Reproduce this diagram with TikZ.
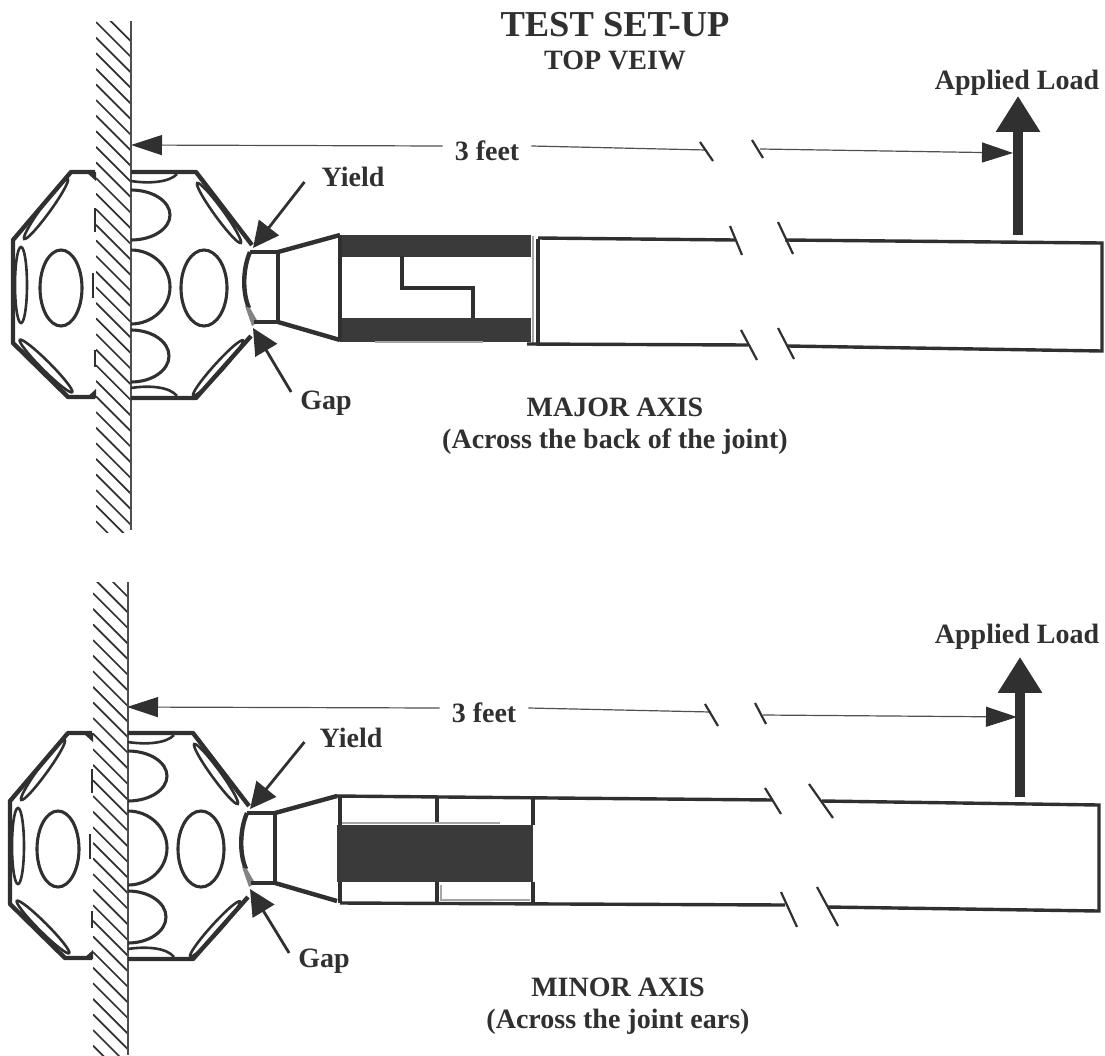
\documentclass[tikz,border=0pt]{standalone}
\usepackage{fontspec}
\setmainfont{Liberation Serif}
\usepackage{tikz}
\usetikzlibrary{positioning}
\usetikzlibrary{arrows.meta}
\definecolor{ink}{RGB}{48,48,48}
\definecolor{soot}{RGB}{58,58,58}
\definecolor{pale}{RGB}{165,165,165}
\tikzset{
    lbl/.style = {font=\bfseries\fontsize{28}{30}\selectfont, text=ink, inner sep=2pt},
    heading/.style = {font=\bfseries\fontsize{36.5}{38}\selectfont, text=ink, inner sep=2pt},
    hatch/.style = {draw=ink, line width=1.7pt},
    wallline/.style = {draw=ink!85, line width=1.8pt},
    outer/.style = {draw=ink, line width=4.4pt, line join=round},
    inner/.style = {draw=ink, line width=3.1pt},
    slot/.style = {draw=ink, line width=2.6pt},
    tube/.style = {draw=ink, line width=3.4pt},
    breakmark/.style = {draw=ink, line width=2.2pt},
    dimline/.style = {draw=ink!85, line width=1.2pt, -{Triangle[length=31pt,width=20pt,color=ink]}},
    dimplain/.style = {draw=ink!85, line width=1.2pt},
    callout/.style = {draw=ink, line width=2.8pt, -{Triangle[length=26pt,width=25pt]}},
    loadarrow/.style = {draw=ink, line width=10pt, -{Triangle[length=36pt,width=42pt]}},
    joint/.pic = {
        % left of the wall
        \draw[outer] (95,172) -- (71,172) -- (13,240) -- (13,343) -- (68,397) -- (95,397);
        \fill[ink] (86,172) -- (96,172) -- (96,181) -- cycle;
        \fill[ink] (86,398) -- (96,398) -- (96,389) -- cycle;
        \draw[slot, rotate around={54:(46,209)}] (46,209) ellipse [x radius=37, y radius=4.5];
        \draw[slot] (21,285) ellipse [x radius=6, y radius=38];
        \draw[slot, rotate around={-45:(46,366)}] (46,366) ellipse [x radius=37, y radius=4.5];
        \draw[inner] (61,288) ellipse [x radius=21, y radius=38];
        \draw[line width=1.6pt, draw=ink] (95,208) -- (95,232);
        \draw[line width=1.6pt, draw=ink] (93,273) -- (93,298);
        \draw[line width=1.6pt, draw=ink] (95,350) -- (95,367);
        % right of the wall
        \draw[outer] (131,172) -- (196,172) -- (252,245);
        \draw[outer] (131,398) -- (196,398) -- (251,336);
        \draw[slot, rotate around={-54:(219,213)}] (219,213) ellipse [x radius=37, y radius=4.5];
        \draw[slot, rotate around={48:(218,368)}] (218,368) ellipse [x radius=37, y radius=4.5];
        \draw[slot] (131,181) .. controls (150,184) and (170,182) .. (177,174);
        \draw[slot] (131,388) .. controls (150,385) and (170,387) .. (177,396);
        \draw[inner] (131,190) arc [start angle=-90, end angle=90, x radius=39, y radius=25];
        \draw[inner] (131,250) arc [start angle=-90, end angle=90, x radius=39, y radius=37];
        \draw[inner] (131,330) arc [start angle=-90, end angle=90, x radius=38, y radius=26];
        \draw[inner] (204,288) ellipse [x radius=23, y radius=38];
        % neck
        \draw[outer] (250,252) .. controls (243,268) and (242,292) .. (249,308);
        \fill[ink!60] (245,306) -- (250,308) -- (258,322) -- (252,326) -- cycle;
        \draw[inner] (250,252) -- (278,252);
        \draw[inner] (254,322) -- (278,322);
        \draw[inner] (278,252) -- (278,322);
        \draw[outer] (278,252) -- (340,235);
        \draw[outer] (278,322) -- (340,340);
        \coordinate (-yieldpt) at (253,248);
        \coordinate (-gappt) at (253,328);
    }
}
\begin{document}
\begin{tikzpicture}[x=1pt, y=-1pt]
    \useasboundingbox (0,0) rectangle (1105,1055);
    \node[heading] (title) at (615,25) {TEST SET-UP};
    \node[lbl] (topview) [below=9pt of title] {TOP VEIW};

    % walls
    \begin{scope}
        \clip (96,21) rectangle (131,532);
        \foreach \k in {-1,...,33}
            \draw[hatch] (96,22+\k*15.6) -- ++(35,35);
    \end{scope}
    \draw[wallline] (131,21) -- (131,530);
    \begin{scope}
        \clip (93,582) rectangle (128,1055);
        \foreach \k in {0,...,32}
            \draw[hatch] (93,562+\k*15.6) -- ++(35,35);
    \end{scope}
    \draw[wallline] (128,582) -- (128,1055);

    \pic (j1) at (0,0) {joint};
    \pic (j2) at (-3,561) {joint};

    % major axis
    \fill[soot] (340,235) rectangle (531,257);
    \fill[soot] (340,318) rectangle (531,342);
    \draw[inner] (340,235) -- (340,341);
    \draw[inner] (402,256) -- (402,288) -- (473,288) -- (473,318);
    \draw[pale, line width=1.8pt] (375,342) -- (483,342);
    \draw[pale, line width=2pt] (533,236) -- (533,343);
    \draw[inner] (538,239) -- (538,344);
    \draw[tube] (538,238) -- (735,240);
    \draw[tube] (527,344) -- (748,345);
    \draw[tube] (785,240) -- (1102,243) -- (1102,351) -- (788,346);
    \draw[breakmark] (730,226) -- (742,255);
    \draw[breakmark] (778,222) -- (793,254);
    \draw[breakmark] (741,330) -- (757,360);
    \draw[breakmark] (778,328) -- (794,359);

    % minor axis
    \fill[soot] (337,825) rectangle (533,882);
    \draw[tube] (335,796) -- (773,800);
    \draw[inner] (340,796) -- (340,825);
    \draw[inner] (340,882) -- (340,903);
    \draw[inner] (437,798) -- (437,824);
    \draw[inner] (437,882) -- (437,903);
    \draw[inner] (533,799) -- (533,825);
    \draw[inner] (533,882) -- (533,903);
    \draw[pale, line width=1.5pt] (441,885) -- (441,900) -- (530,900);
    \draw[pale, line width=1.5pt] (342,823) -- (500,823);
    \draw[tube] (340,903) -- (785,905);
    \draw[tube] (822,801) -- (1099,805) -- (1099,911) -- (828,907);
    \draw[breakmark] (765,788) -- (781,814);
    \draw[breakmark] (809,784) -- (833,818);
    \draw[breakmark] (781,892) -- (797,927);
    \draw[breakmark] (817,887) -- (838,926);

    % top dimension and labels
    \coordinate (wall1) at (131,145);
    \coordinate (brk1) at (706,150);
    \coordinate (brk2) at (760,149);
    \coordinate (load1) at (1018,235);
    \coordinate (tip1) at (1013,153);
    \node[lbl, inner xsep=12pt] (feet1) at (487,151) {3 feet};
    \node[lbl] (yield1) at (353,177) {Yield};
    \node[lbl] (gap1) at (326,403) {Gap};
    \node[lbl] (applied1) at (1017,83) {Applied Load};
    \node[lbl] (major) at (615,407) {MAJOR AXIS};
    \node[lbl] (majornote) [below=8pt of major] {(Across the back of the joint)};
    \draw[dimline] ([yshift=5pt]feet1.west) -- (wall1);
    \draw[dimplain] ([yshift=5pt]feet1.east) -- (brk1);
    \draw[breakmark] (700,142) -- (713,161);
    \draw[breakmark] (752,140) -- (763,158);
    \draw[dimline] (brk2) -- (tip1);
    \draw[loadarrow, shorten >=-2pt] (load1) -- (load1 |- applied1.south);
    \draw[callout] ([shift={(-15,5)}]yield1.west) -- (j1-yieldpt);
    \draw[callout] ([shift={(-7,-11)}]gap1.west) -- (j1-gappt);

    % bottom dimension and labels
    \coordinate (wall2) at (127,707);
    \coordinate (brk3) at (711,712);
    \coordinate (brk4) at (763,715);
    \coordinate (load2) at (1020,797);
    \coordinate (tip2) at (1017,717);
    \node[lbl, inner xsep=12pt] (feet2) at (484,713) {3 feet};
    \node[lbl] (yield2) at (351,738) {Yield};
    \node[lbl] (gap2) at (324,961) {Gap};
    \node[lbl] (applied2) at (1017,637) {Applied Load};
    \node[lbl] (minor) at (618,987) {MINOR AXIS};
    \node[lbl] (minornote) [below=8pt of minor] {(Across the joint ears)};
    \draw[dimline] ([yshift=5pt]feet2.west) -- (wall2);
    \draw[dimplain] ([yshift=5pt]feet2.east) -- (brk3);
    \draw[breakmark] (705,704) -- (718,726);
    \draw[breakmark] (755,703) -- (766,724);
    \draw[dimline] (brk4) -- (tip2);
    \draw[loadarrow, shorten >=5pt] (load2) -- (load2 |- applied2.south);
    \draw[callout] ([shift={(-13,4)}]yield2.west) -- (j2-yieldpt);
    \draw[callout] ([shift={(-7,-8)}]gap2.west) -- (j2-gappt);
\end{tikzpicture}
\end{document}
